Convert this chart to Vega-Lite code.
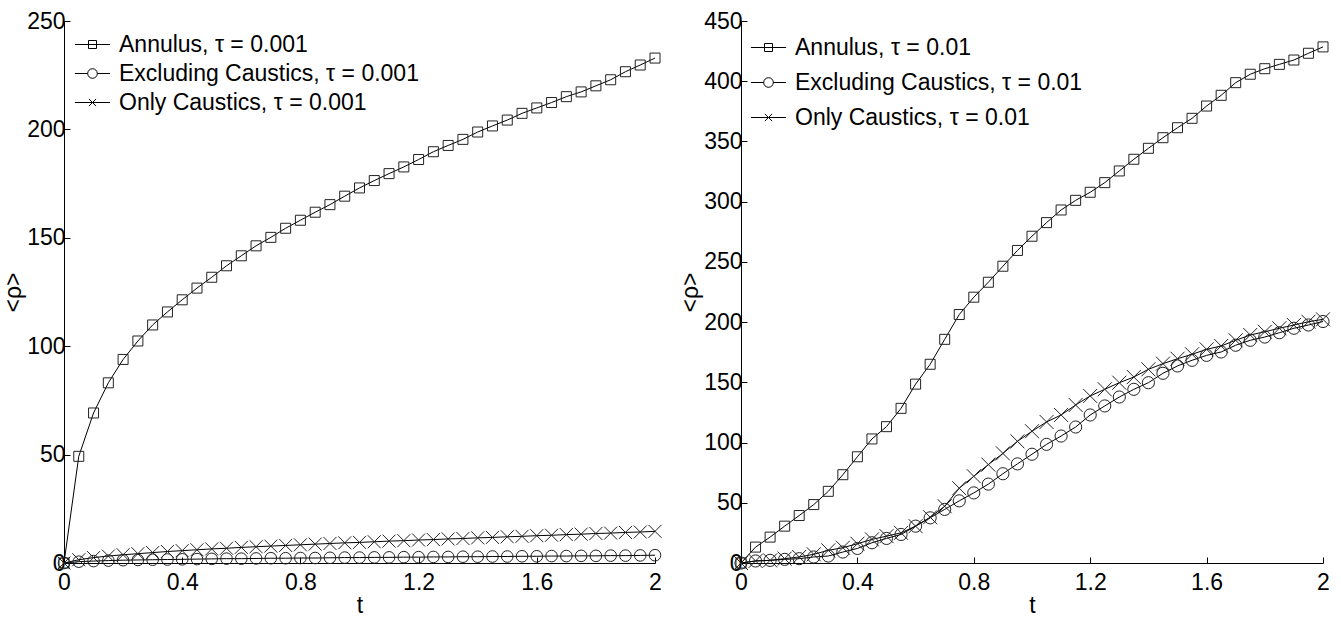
{
  "$schema": "https://vega.github.io/schema/vega-lite/v6.json",
  "autosize": {"type": "pad"},
  "padding": {"top": 10, "left": 2, "right": 5, "bottom": 2},
  "spacing": 15,
  "config": {
    "font": "Liberation Sans",
    "view": {"stroke": null},
    "axis": {
      "domainColor": "black", "domainWidth": 1, "tickColor": "black", "tickWidth": 1, "tickSize": -6,
      "labelFontSize": 23, "labelColor": "black", "labelPadding": 5, "labelFlush": false, "labelOverlap": false,
      "titleFontSize": 23, "titleFontWeight": "normal", "titleColor": "black", "grid": false
    },
    "legend": {"labelFontSize": 23, "labelColor": "black", "padding": 0, "title": null, "labelLimit": 0}
  },
  "datasets": {
    "left": [
      {"t":0,"v":0,"s":"Annulus, τ = 0.001"},{"t":0.05,"v":49.2,"s":"Annulus, τ = 0.001"},{"t":0.1,"v":69.2,"s":"Annulus, τ = 0.001"},{"t":0.15,"v":83.1,"s":"Annulus, τ = 0.001"},{"t":0.2,"v":93.9,"s":"Annulus, τ = 0.001"},{"t":0.25,"v":102.4,"s":"Annulus, τ = 0.001"},{"t":0.3,"v":109.8,"s":"Annulus, τ = 0.001"},{"t":0.35,"v":115.8,"s":"Annulus, τ = 0.001"},{"t":0.4,"v":121.4,"s":"Annulus, τ = 0.001"},{"t":0.45,"v":126.8,"s":"Annulus, τ = 0.001"},{"t":0.5,"v":131.8,"s":"Annulus, τ = 0.001"},{"t":0.55,"v":137.1,"s":"Annulus, τ = 0.001"},{"t":0.6,"v":141.7,"s":"Annulus, τ = 0.001"},{"t":0.65,"v":146.3,"s":"Annulus, τ = 0.001"},{"t":0.7,"v":150.2,"s":"Annulus, τ = 0.001"},{"t":0.75,"v":154.4,"s":"Annulus, τ = 0.001"},{"t":0.8,"v":158.1,"s":"Annulus, τ = 0.001"},{"t":0.85,"v":161.8,"s":"Annulus, τ = 0.001"},{"t":0.9,"v":165.3,"s":"Annulus, τ = 0.001"},{"t":0.95,"v":169.2,"s":"Annulus, τ = 0.001"},{"t":1.0,"v":173.0,"s":"Annulus, τ = 0.001"},{"t":1.05,"v":176.4,"s":"Annulus, τ = 0.001"},{"t":1.1,"v":179.6,"s":"Annulus, τ = 0.001"},{"t":1.15,"v":182.7,"s":"Annulus, τ = 0.001"},{"t":1.2,"v":186.1,"s":"Annulus, τ = 0.001"},{"t":1.25,"v":189.7,"s":"Annulus, τ = 0.001"},{"t":1.3,"v":192.6,"s":"Annulus, τ = 0.001"},{"t":1.35,"v":195.4,"s":"Annulus, τ = 0.001"},{"t":1.4,"v":198.8,"s":"Annulus, τ = 0.001"},{"t":1.45,"v":201.6,"s":"Annulus, τ = 0.001"},{"t":1.5,"v":204.3,"s":"Annulus, τ = 0.001"},{"t":1.55,"v":207.4,"s":"Annulus, τ = 0.001"},{"t":1.6,"v":209.9,"s":"Annulus, τ = 0.001"},{"t":1.65,"v":212.4,"s":"Annulus, τ = 0.001"},{"t":1.7,"v":215.1,"s":"Annulus, τ = 0.001"},{"t":1.75,"v":217.3,"s":"Annulus, τ = 0.001"},{"t":1.8,"v":220.1,"s":"Annulus, τ = 0.001"},{"t":1.85,"v":222.9,"s":"Annulus, τ = 0.001"},{"t":1.9,"v":226.6,"s":"Annulus, τ = 0.001"},{"t":1.95,"v":229.7,"s":"Annulus, τ = 0.001"},{"t":2.0,"v":232.9,"s":"Annulus, τ = 0.001"},
      {"t":0,"v":0,"s":"Excluding Caustics, τ = 0.001"},{"t":0.05,"v":0.6,"s":"Excluding Caustics, τ = 0.001"},{"t":0.1,"v":0.9,"s":"Excluding Caustics, τ = 0.001"},{"t":0.15,"v":1.1,"s":"Excluding Caustics, τ = 0.001"},{"t":0.2,"v":1.3,"s":"Excluding Caustics, τ = 0.001"},{"t":0.25,"v":1.4,"s":"Excluding Caustics, τ = 0.001"},{"t":0.3,"v":1.5,"s":"Excluding Caustics, τ = 0.001"},{"t":0.35,"v":1.6,"s":"Excluding Caustics, τ = 0.001"},{"t":0.4,"v":1.7,"s":"Excluding Caustics, τ = 0.001"},{"t":0.45,"v":1.8,"s":"Excluding Caustics, τ = 0.001"},{"t":0.5,"v":1.9,"s":"Excluding Caustics, τ = 0.001"},{"t":0.55,"v":2.0,"s":"Excluding Caustics, τ = 0.001"},{"t":0.6,"v":2.0,"s":"Excluding Caustics, τ = 0.001"},{"t":0.65,"v":2.1,"s":"Excluding Caustics, τ = 0.001"},{"t":0.7,"v":2.2,"s":"Excluding Caustics, τ = 0.001"},{"t":0.75,"v":2.2,"s":"Excluding Caustics, τ = 0.001"},{"t":0.8,"v":2.3,"s":"Excluding Caustics, τ = 0.001"},{"t":0.85,"v":2.3,"s":"Excluding Caustics, τ = 0.001"},{"t":0.9,"v":2.4,"s":"Excluding Caustics, τ = 0.001"},{"t":0.95,"v":2.5,"s":"Excluding Caustics, τ = 0.001"},{"t":1.0,"v":2.5,"s":"Excluding Caustics, τ = 0.001"},{"t":1.05,"v":2.6,"s":"Excluding Caustics, τ = 0.001"},{"t":1.1,"v":2.6,"s":"Excluding Caustics, τ = 0.001"},{"t":1.15,"v":2.7,"s":"Excluding Caustics, τ = 0.001"},{"t":1.2,"v":2.7,"s":"Excluding Caustics, τ = 0.001"},{"t":1.25,"v":2.8,"s":"Excluding Caustics, τ = 0.001"},{"t":1.3,"v":2.8,"s":"Excluding Caustics, τ = 0.001"},{"t":1.35,"v":2.9,"s":"Excluding Caustics, τ = 0.001"},{"t":1.4,"v":2.9,"s":"Excluding Caustics, τ = 0.001"},{"t":1.45,"v":3.0,"s":"Excluding Caustics, τ = 0.001"},{"t":1.5,"v":3.0,"s":"Excluding Caustics, τ = 0.001"},{"t":1.55,"v":3.1,"s":"Excluding Caustics, τ = 0.001"},{"t":1.6,"v":3.1,"s":"Excluding Caustics, τ = 0.001"},{"t":1.65,"v":3.2,"s":"Excluding Caustics, τ = 0.001"},{"t":1.7,"v":3.2,"s":"Excluding Caustics, τ = 0.001"},{"t":1.75,"v":3.3,"s":"Excluding Caustics, τ = 0.001"},{"t":1.8,"v":3.3,"s":"Excluding Caustics, τ = 0.001"},{"t":1.85,"v":3.4,"s":"Excluding Caustics, τ = 0.001"},{"t":1.9,"v":3.4,"s":"Excluding Caustics, τ = 0.001"},{"t":1.95,"v":3.5,"s":"Excluding Caustics, τ = 0.001"},{"t":2.0,"v":3.6,"s":"Excluding Caustics, τ = 0.001"},
      {"t":0,"v":0,"s":"Only Caustics, τ = 0.001"},{"t":0.05,"v":1.5,"s":"Only Caustics, τ = 0.001"},{"t":0.1,"v":2.5,"s":"Only Caustics, τ = 0.001"},{"t":0.15,"v":3.2,"s":"Only Caustics, τ = 0.001"},{"t":0.2,"v":3.8,"s":"Only Caustics, τ = 0.001"},{"t":0.25,"v":4.3,"s":"Only Caustics, τ = 0.001"},{"t":0.3,"v":4.8,"s":"Only Caustics, τ = 0.001"},{"t":0.35,"v":5.3,"s":"Only Caustics, τ = 0.001"},{"t":0.4,"v":5.7,"s":"Only Caustics, τ = 0.001"},{"t":0.45,"v":6.1,"s":"Only Caustics, τ = 0.001"},{"t":0.5,"v":6.5,"s":"Only Caustics, τ = 0.001"},{"t":0.55,"v":6.8,"s":"Only Caustics, τ = 0.001"},{"t":0.6,"v":7.2,"s":"Only Caustics, τ = 0.001"},{"t":0.65,"v":7.5,"s":"Only Caustics, τ = 0.001"},{"t":0.7,"v":7.8,"s":"Only Caustics, τ = 0.001"},{"t":0.75,"v":8.1,"s":"Only Caustics, τ = 0.001"},{"t":0.8,"v":8.4,"s":"Only Caustics, τ = 0.001"},{"t":0.85,"v":8.7,"s":"Only Caustics, τ = 0.001"},{"t":0.9,"v":9.0,"s":"Only Caustics, τ = 0.001"},{"t":0.95,"v":9.3,"s":"Only Caustics, τ = 0.001"},{"t":1.0,"v":9.5,"s":"Only Caustics, τ = 0.001"},{"t":1.05,"v":9.8,"s":"Only Caustics, τ = 0.001"},{"t":1.1,"v":10.1,"s":"Only Caustics, τ = 0.001"},{"t":1.15,"v":10.3,"s":"Only Caustics, τ = 0.001"},{"t":1.2,"v":10.6,"s":"Only Caustics, τ = 0.001"},{"t":1.25,"v":10.8,"s":"Only Caustics, τ = 0.001"},{"t":1.3,"v":11.1,"s":"Only Caustics, τ = 0.001"},{"t":1.35,"v":11.3,"s":"Only Caustics, τ = 0.001"},{"t":1.4,"v":11.6,"s":"Only Caustics, τ = 0.001"},{"t":1.45,"v":11.8,"s":"Only Caustics, τ = 0.001"},{"t":1.5,"v":12.1,"s":"Only Caustics, τ = 0.001"},{"t":1.55,"v":12.3,"s":"Only Caustics, τ = 0.001"},{"t":1.6,"v":12.6,"s":"Only Caustics, τ = 0.001"},{"t":1.65,"v":12.8,"s":"Only Caustics, τ = 0.001"},{"t":1.7,"v":13.1,"s":"Only Caustics, τ = 0.001"},{"t":1.75,"v":13.3,"s":"Only Caustics, τ = 0.001"},{"t":1.8,"v":13.6,"s":"Only Caustics, τ = 0.001"},{"t":1.85,"v":13.8,"s":"Only Caustics, τ = 0.001"},{"t":1.9,"v":14.1,"s":"Only Caustics, τ = 0.001"},{"t":1.95,"v":14.3,"s":"Only Caustics, τ = 0.001"},{"t":2.0,"v":14.6,"s":"Only Caustics, τ = 0.001"}
    ],
    "right": [
      {"t":0,"v":0,"s":"Annulus, τ = 0.01"},{"t":0.05,"v":13.2,"s":"Annulus, τ = 0.01"},{"t":0.1,"v":21.5,"s":"Annulus, τ = 0.01"},{"t":0.15,"v":30.6,"s":"Annulus, τ = 0.01"},{"t":0.2,"v":39.4,"s":"Annulus, τ = 0.01"},{"t":0.25,"v":48.5,"s":"Annulus, τ = 0.01"},{"t":0.3,"v":59.5,"s":"Annulus, τ = 0.01"},{"t":0.35,"v":73.3,"s":"Annulus, τ = 0.01"},{"t":0.4,"v":88.2,"s":"Annulus, τ = 0.01"},{"t":0.45,"v":103.0,"s":"Annulus, τ = 0.01"},{"t":0.5,"v":113.2,"s":"Annulus, τ = 0.01"},{"t":0.55,"v":128.4,"s":"Annulus, τ = 0.01"},{"t":0.6,"v":148.5,"s":"Annulus, τ = 0.01"},{"t":0.65,"v":165.0,"s":"Annulus, τ = 0.01"},{"t":0.7,"v":185.7,"s":"Annulus, τ = 0.01"},{"t":0.75,"v":206.3,"s":"Annulus, τ = 0.01"},{"t":0.8,"v":220.7,"s":"Annulus, τ = 0.01"},{"t":0.85,"v":233.1,"s":"Annulus, τ = 0.01"},{"t":0.9,"v":246.4,"s":"Annulus, τ = 0.01"},{"t":0.95,"v":259.5,"s":"Annulus, τ = 0.01"},{"t":1.0,"v":271.3,"s":"Annulus, τ = 0.01"},{"t":1.05,"v":282.6,"s":"Annulus, τ = 0.01"},{"t":1.1,"v":293.1,"s":"Annulus, τ = 0.01"},{"t":1.15,"v":301.1,"s":"Annulus, τ = 0.01"},{"t":1.2,"v":307.8,"s":"Annulus, τ = 0.01"},{"t":1.25,"v":315.8,"s":"Annulus, τ = 0.01"},{"t":1.3,"v":325.5,"s":"Annulus, τ = 0.01"},{"t":1.35,"v":335.2,"s":"Annulus, τ = 0.01"},{"t":1.4,"v":344.3,"s":"Annulus, τ = 0.01"},{"t":1.45,"v":353.1,"s":"Annulus, τ = 0.01"},{"t":1.5,"v":361.4,"s":"Annulus, τ = 0.01"},{"t":1.55,"v":369.2,"s":"Annulus, τ = 0.01"},{"t":1.6,"v":379.4,"s":"Annulus, τ = 0.01"},{"t":1.65,"v":388.3,"s":"Annulus, τ = 0.01"},{"t":1.7,"v":398.8,"s":"Annulus, τ = 0.01"},{"t":1.75,"v":405.8,"s":"Annulus, τ = 0.01"},{"t":1.8,"v":410.4,"s":"Annulus, τ = 0.01"},{"t":1.85,"v":414.0,"s":"Annulus, τ = 0.01"},{"t":1.9,"v":417.6,"s":"Annulus, τ = 0.01"},{"t":1.95,"v":423.2,"s":"Annulus, τ = 0.01"},{"t":2.0,"v":428.5,"s":"Annulus, τ = 0.01"},
      {"t":0,"v":0,"s":"Excluding Caustics, τ = 0.01"},{"t":0.05,"v":1.7,"s":"Excluding Caustics, τ = 0.01"},{"t":0.1,"v":2.2,"s":"Excluding Caustics, τ = 0.01"},{"t":0.15,"v":3.0,"s":"Excluding Caustics, τ = 0.01"},{"t":0.2,"v":3.6,"s":"Excluding Caustics, τ = 0.01"},{"t":0.25,"v":5.0,"s":"Excluding Caustics, τ = 0.01"},{"t":0.3,"v":5.8,"s":"Excluding Caustics, τ = 0.01"},{"t":0.35,"v":9.1,"s":"Excluding Caustics, τ = 0.01"},{"t":0.4,"v":12.1,"s":"Excluding Caustics, τ = 0.01"},{"t":0.45,"v":16.8,"s":"Excluding Caustics, τ = 0.01"},{"t":0.5,"v":20.4,"s":"Excluding Caustics, τ = 0.01"},{"t":0.55,"v":23.7,"s":"Excluding Caustics, τ = 0.01"},{"t":0.6,"v":30.6,"s":"Excluding Caustics, τ = 0.01"},{"t":0.65,"v":37.5,"s":"Excluding Caustics, τ = 0.01"},{"t":0.7,"v":44.5,"s":"Excluding Caustics, τ = 0.01"},{"t":0.75,"v":51.6,"s":"Excluding Caustics, τ = 0.01"},{"t":0.8,"v":58.2,"s":"Excluding Caustics, τ = 0.01"},{"t":0.85,"v":65.5,"s":"Excluding Caustics, τ = 0.01"},{"t":0.9,"v":74.1,"s":"Excluding Caustics, τ = 0.01"},{"t":0.95,"v":82.3,"s":"Excluding Caustics, τ = 0.01"},{"t":1.0,"v":90.3,"s":"Excluding Caustics, τ = 0.01"},{"t":1.05,"v":98.5,"s":"Excluding Caustics, τ = 0.01"},{"t":1.1,"v":105.4,"s":"Excluding Caustics, τ = 0.01"},{"t":1.15,"v":112.9,"s":"Excluding Caustics, τ = 0.01"},{"t":1.2,"v":122.9,"s":"Excluding Caustics, τ = 0.01"},{"t":1.25,"v":130.4,"s":"Excluding Caustics, τ = 0.01"},{"t":1.3,"v":137.8,"s":"Excluding Caustics, τ = 0.01"},{"t":1.35,"v":144.2,"s":"Excluding Caustics, τ = 0.01"},{"t":1.4,"v":149.7,"s":"Excluding Caustics, τ = 0.01"},{"t":1.45,"v":157.5,"s":"Excluding Caustics, τ = 0.01"},{"t":1.5,"v":163.6,"s":"Excluding Caustics, τ = 0.01"},{"t":1.55,"v":168.3,"s":"Excluding Caustics, τ = 0.01"},{"t":1.6,"v":172.4,"s":"Excluding Caustics, τ = 0.01"},{"t":1.65,"v":175.2,"s":"Excluding Caustics, τ = 0.01"},{"t":1.7,"v":180.8,"s":"Excluding Caustics, τ = 0.01"},{"t":1.75,"v":184.9,"s":"Excluding Caustics, τ = 0.01"},{"t":1.8,"v":187.6,"s":"Excluding Caustics, τ = 0.01"},{"t":1.85,"v":191.2,"s":"Excluding Caustics, τ = 0.01"},{"t":1.9,"v":194.9,"s":"Excluding Caustics, τ = 0.01"},{"t":1.95,"v":197.6,"s":"Excluding Caustics, τ = 0.01"},{"t":2.0,"v":200.5,"s":"Excluding Caustics, τ = 0.01"},
      {"t":0,"v":0,"s":"Only Caustics, τ = 0.01"},{"t":0.05,"v":1.7,"s":"Only Caustics, τ = 0.01"},{"t":0.1,"v":2.2,"s":"Only Caustics, τ = 0.01"},{"t":0.15,"v":3.6,"s":"Only Caustics, τ = 0.01"},{"t":0.2,"v":5.0,"s":"Only Caustics, τ = 0.01"},{"t":0.25,"v":7.2,"s":"Only Caustics, τ = 0.01"},{"t":0.3,"v":10.5,"s":"Only Caustics, τ = 0.01"},{"t":0.35,"v":12.7,"s":"Only Caustics, τ = 0.01"},{"t":0.4,"v":16.0,"s":"Only Caustics, τ = 0.01"},{"t":0.45,"v":19.6,"s":"Only Caustics, τ = 0.01"},{"t":0.5,"v":22.3,"s":"Only Caustics, τ = 0.01"},{"t":0.55,"v":25.0,"s":"Only Caustics, τ = 0.01"},{"t":0.6,"v":30.6,"s":"Only Caustics, τ = 0.01"},{"t":0.65,"v":38.0,"s":"Only Caustics, τ = 0.01"},{"t":0.7,"v":47.1,"s":"Only Caustics, τ = 0.01"},{"t":0.75,"v":62.1,"s":"Only Caustics, τ = 0.01"},{"t":0.8,"v":72.0,"s":"Only Caustics, τ = 0.01"},{"t":0.85,"v":81.7,"s":"Only Caustics, τ = 0.01"},{"t":0.9,"v":91.0,"s":"Only Caustics, τ = 0.01"},{"t":0.95,"v":101.0,"s":"Only Caustics, τ = 0.01"},{"t":1.0,"v":109.4,"s":"Only Caustics, τ = 0.01"},{"t":1.05,"v":117.1,"s":"Only Caustics, τ = 0.01"},{"t":1.1,"v":122.9,"s":"Only Caustics, τ = 0.01"},{"t":1.15,"v":131.2,"s":"Only Caustics, τ = 0.01"},{"t":1.2,"v":138.7,"s":"Only Caustics, τ = 0.01"},{"t":1.25,"v":144.2,"s":"Only Caustics, τ = 0.01"},{"t":1.3,"v":149.7,"s":"Only Caustics, τ = 0.01"},{"t":1.35,"v":154.4,"s":"Only Caustics, τ = 0.01"},{"t":1.4,"v":160.8,"s":"Only Caustics, τ = 0.01"},{"t":1.45,"v":165.5,"s":"Only Caustics, τ = 0.01"},{"t":1.5,"v":169.6,"s":"Only Caustics, τ = 0.01"},{"t":1.55,"v":173.3,"s":"Only Caustics, τ = 0.01"},{"t":1.6,"v":177.4,"s":"Only Caustics, τ = 0.01"},{"t":1.65,"v":180.2,"s":"Only Caustics, τ = 0.01"},{"t":1.7,"v":184.9,"s":"Only Caustics, τ = 0.01"},{"t":1.75,"v":189.3,"s":"Only Caustics, τ = 0.01"},{"t":1.8,"v":192.0,"s":"Only Caustics, τ = 0.01"},{"t":1.85,"v":194.9,"s":"Only Caustics, τ = 0.01"},{"t":1.9,"v":197.6,"s":"Only Caustics, τ = 0.01"},{"t":1.95,"v":200.3,"s":"Only Caustics, τ = 0.01"},{"t":2.0,"v":202.3,"s":"Only Caustics, τ = 0.01"}
    ]
  },
  "hconcat": [
    {
      "width": 591, "height": 542,
      "data": {"name": "left"},
      "encoding": {
        "x": {"field": "t", "type": "quantitative", "title": "t", "scale": {"domain": [0, 2], "nice": false, "zero": false},
              "axis": {"values": [0, 0.4, 0.8, 1.2, 1.6, 2], "format": ".1~f", "labelPadding": 14, "titlePadding": 0}},
        "y": {"field": "v", "type": "quantitative", "title": "<ρ>", "scale": {"domain": [0, 250], "nice": false},
              "axis": {"values": [0, 50, 100, 150, 200, 250], "titlePadding": 1}}
      },
      "layer": [
        {"mark": {"type": "line", "color": "black", "strokeWidth": 1}, "encoding": {"detail": {"field": "s"}}},
        {"mark": {"type": "point", "filled": false, "color": "#222", "strokeWidth": 1, "opacity": 1},
         "encoding": {
           "shape": {"field": "s", "scale": {"domain": ["Annulus, τ = 0.001", "Excluding Caustics, τ = 0.001", "Only Caustics, τ = 0.001"], "range": ["square", "circle", "M-1,-1L1,1M-1,1L1,-1"]}, "legend": null},
           "size": {"field": "s", "scale": {"domain": ["Annulus, τ = 0.001", "Excluding Caustics, τ = 0.001", "Only Caustics, τ = 0.001"], "range": [100, 169, 90]}, "legend": null}
         }},
        {"transform": [{"filter": "false"}],
         "mark": {"type": "point", "filled": false, "color": "black", "strokeWidth": 1, "opacity": 1},
         "encoding": {
           "shape": {"field": "s", "scale": {"domain": ["Annulus, τ = 0.001", "Excluding Caustics, τ = 0.001", "Only Caustics, τ = 0.001"],
             "range": ["M-2.2,0H2.2M-0.5,-0.5H0.5V0.5H-0.5Z", "M-2.2,0H-0.6M0.6,0H2.2M0.6,0A0.6,0.6,0,1,1,-0.6,0A0.6,0.6,0,1,1,0.6,0", "M-2.2,0H2.2M-0.45,-0.45L0.45,0.45M-0.45,0.45L0.45,-0.45"]},
             "legend": {"orient": "none", "legendX": 17, "legendY": 12, "symbolSize": 256, "labelOffset": 15, "rowPadding": 5, "symbolStrokeWidth": 1}}
         }}
      ],
      "resolve": {"scale": {"shape": "independent", "size": "independent"}, "legend": {"shape": "independent"}}
    },
    {
      "width": 582, "height": 542,
      "data": {"name": "right"},
      "encoding": {
        "x": {"field": "t", "type": "quantitative", "title": "t", "scale": {"domain": [0, 2], "nice": false, "zero": false},
              "axis": {"values": [0, 0.4, 0.8, 1.2, 1.6, 2], "format": ".1~f", "labelPadding": 14, "titlePadding": 0}},
        "y": {"field": "v", "type": "quantitative", "title": "<ρ>", "scale": {"domain": [0, 450], "nice": false},
              "axis": {"values": [0, 50, 100, 150, 200, 250, 300, 350, 400, 450], "titlePadding": 1}}
      },
      "layer": [
        {"mark": {"type": "line", "color": "black", "strokeWidth": 1}, "encoding": {"detail": {"field": "s"}}},
        {"mark": {"type": "point", "filled": false, "color": "#222", "strokeWidth": 1, "opacity": 1},
         "encoding": {
           "shape": {"field": "s", "scale": {"domain": ["Annulus, τ = 0.01", "Excluding Caustics, τ = 0.01", "Only Caustics, τ = 0.01"], "range": ["square", "circle", "M-1,-1L1,1M-1,1L1,-1"]}, "legend": null},
           "size": {"field": "s", "scale": {"domain": ["Annulus, τ = 0.01", "Excluding Caustics, τ = 0.01", "Only Caustics, τ = 0.01"], "range": [100, 196, 90]}, "legend": null}
         }},
        {"transform": [{"filter": "false"}],
         "mark": {"type": "point", "filled": false, "color": "black", "strokeWidth": 1, "opacity": 1},
         "encoding": {
           "shape": {"field": "s", "scale": {"domain": ["Annulus, τ = 0.01", "Excluding Caustics, τ = 0.01", "Only Caustics, τ = 0.01"],
             "range": ["M-2.2,0H2.2M-0.5,-0.5H0.5V0.5H-0.5Z", "M-2.2,0H-0.6M0.6,0H2.2M0.6,0A0.6,0.6,0,1,1,-0.6,0A0.6,0.6,0,1,1,0.6,0", "M-2.2,0H2.2M-0.45,-0.45L0.45,0.45M-0.45,0.45L0.45,-0.45"]},
             "legend": {"orient": "none", "legendX": 16, "legendY": 15, "symbolSize": 256, "labelOffset": 15, "rowPadding": 11, "symbolStrokeWidth": 1}}
         }}
      ],
      "resolve": {"scale": {"shape": "independent", "size": "independent"}, "legend": {"shape": "independent"}}
    }
  ]
}
